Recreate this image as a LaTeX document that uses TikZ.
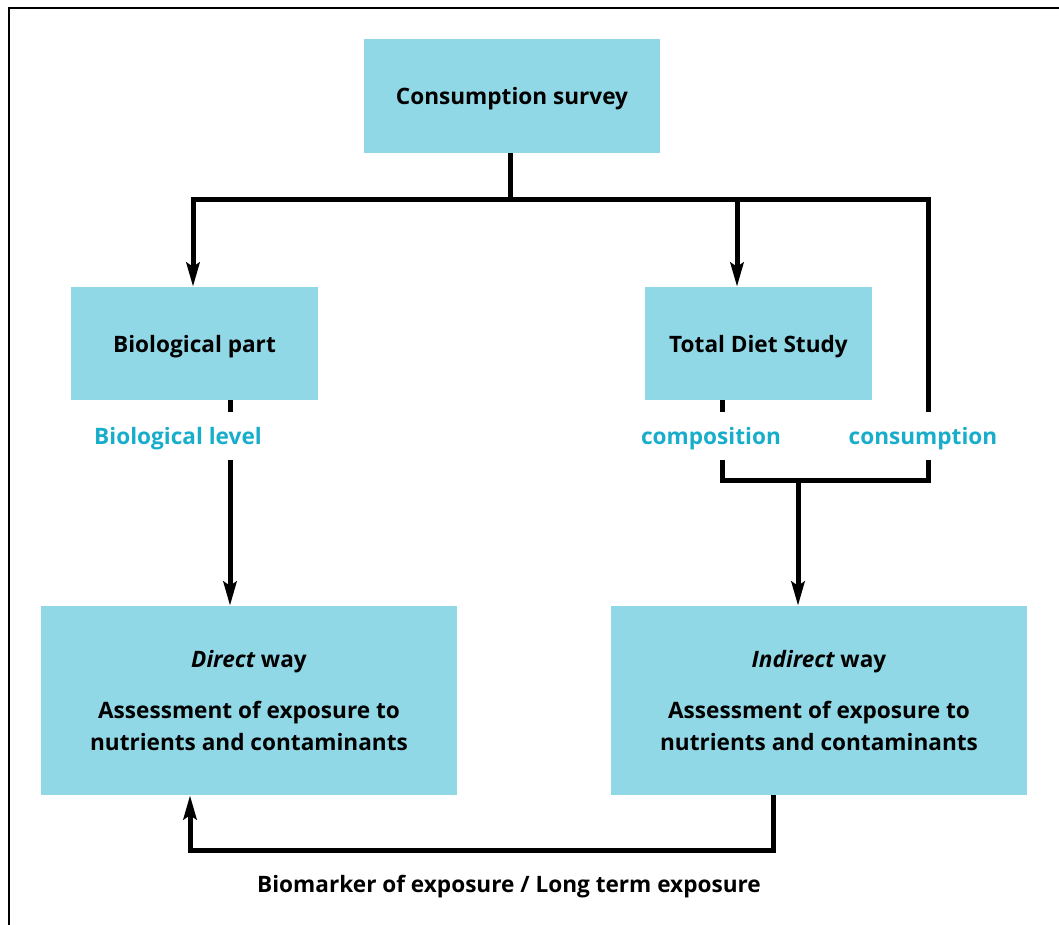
\documentclass[tikz,border=0pt]{standalone}
\usepackage{fontspec}
\setmainfont{Open Sans}
\usetikzlibrary{arrows.meta}
\definecolor{boxc}{HTML}{91D8E6}
\definecolor{lblc}{HTML}{19ADCC}
\begin{document}
\begin{tikzpicture}[x=1pt,y=-1pt,
  box/.style={fill=boxc, inner sep=0pt, align=center, font=\bfseries\fontsize{22.6}{32}\selectfont},
  onebox/.style={box, text depth=0pt},
  lbl/.style={text=lblc, inner sep=0pt, minimum height=47pt, text depth=0pt, font=\bfseries\fontsize{22.6}{26}\selectfont},
  captxt/.style={inner sep=0pt, text depth=0pt, font=\bfseries\fontsize{22.6}{26}\selectfont},
  conn/.style={line width=5pt},
  arr/.style={conn, -{Stealth[length=24pt,width=13pt,inset=4pt]}}]
\useasboundingbox (0,0) rectangle (1059,925);
\draw[line width=2pt] (9,925) -- (9,8) -- (1062,8);

\node[onebox, minimum width=296pt, minimum height=114pt] (cs) at (512,96) {Consumption survey};
\node[onebox, minimum width=247pt, minimum height=113pt] (bio) at (194.5,343.5) {Biological part};
\node[onebox, minimum width=227pt, minimum height=113pt] (tds) at (758.5,343.5) {Total Diet Study};
\node[box, minimum width=416pt, minimum height=189pt] (dir) at (249,700.5)
  {{\itshape Direct} way\\[19pt] Assessment of exposure to\\ nutrients and contaminants};
\node[box, minimum width=416pt, minimum height=189pt] (ind) at (819,700.5)
  {{\itshape Indirect} way\\[19pt] Assessment of exposure to\\ nutrients and contaminants};

\node[lbl] (biolevel) at (178,436) {Biological level};
\node[lbl] (comp) at (711,436) {composition};
\node[lbl] (cons) at (923,436) {consumption};
\node[captxt] (biom) at (509,884) {Biomarker of exposure / Long term exposure};

\coordinate (j1) at (510,200);
\coordinate (a) at (193,200);
\coordinate (b) at (928,200);
\coordinate (c) at (737,200);
\coordinate (d) at (230,0);
\coordinate (e) at (722,0);
\coordinate (g) at (798,480);
\coordinate (h) at (773,850);
\coordinate (k) at (190,850);

\draw[conn] (cs.south -| j1) -- (j1);
\draw[arr] (j1) -| (bio.north -| a);
\draw[conn] (j1) -| (cons.north -| b);
\draw[arr] (c) -- (tds.north -| c);

\draw[conn] (bio.south -| d) -- (biolevel.north -| d);
\draw[arr] (biolevel.south -| d) -- (dir.north -| d);

\draw[conn] (tds.south -| e) -- (comp.north -| e);
\draw[conn] (comp.south -| e) |- (g) -| (cons.south -| b);
\draw[arr] (g) -- (ind.north -| g);

\draw[arr] (ind.south -| h) -- (h) -- (k) -- (dir.south -| k);
\end{tikzpicture}
\end{document}
